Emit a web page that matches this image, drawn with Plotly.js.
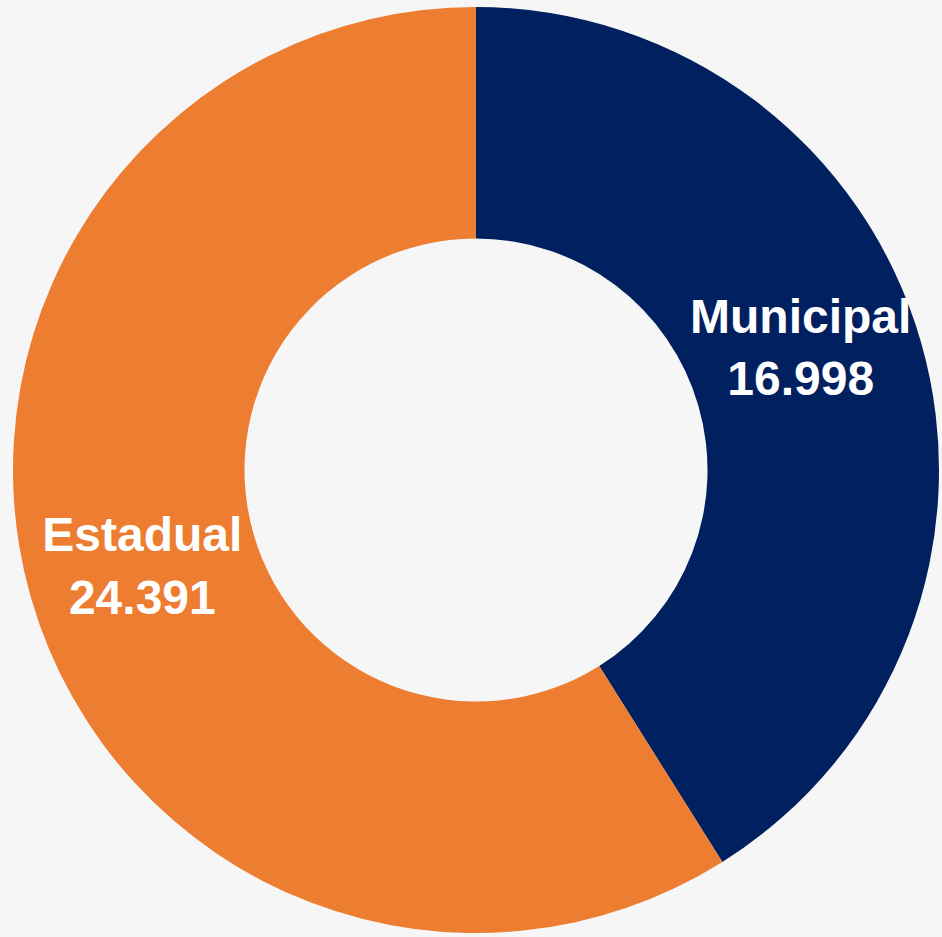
<!DOCTYPE html>
<html>
<head>
<meta charset="utf-8">
<script src="https://cdn.plot.ly/plotly-3.0.1.min.js"></script>
<style>html,body{margin:0;padding:0;background:#f6f6f6;}#chart{width:942px;height:937px;}</style>
</head>
<body>
<div id="chart"></div>
<script>
const categories = ["Municipal", "Estadual"];
const values = [16998, 24391];
const valueLabels = ["16.998", "24.391"];
const colors = ["#00205F", "#ED7D31"];

const labelFont = {family: "Liberation Sans, Arial, sans-serif", size: 48, color: "#ffffff", weight: "bold"};

Plotly.newPlot("chart", [{
  type: "pie",
  labels: categories,
  values: values,
  hole: 0.5,
  sort: false,
  direction: "clockwise",
  rotation: 0,
  marker: {colors: colors, line: {width: 0}},
  texttemplate: "%{label}<br>%{value:,}",
  textposition: ["none", "inside"],
  insidetextorientation: "horizontal",
  textfont: labelFont,
  hoverinfo: "label+value"
}], {
  width: 942, height: 937,
  margin: {l: 13, r: 3, t: 7, b: 4},
  paper_bgcolor: "#f6f6f6",
  plot_bgcolor: "#f6f6f6",
  separators: ",.",
  showlegend: false,
  annotations: [{
    text: categories[0] + "<br>" + valueLabels[0],
    xref: "paper", yref: "paper",
    x: 0.85, y: 0.632,
    xanchor: "center", yanchor: "middle",
    showarrow: false,
    font: labelFont
  }]
}, {displayModeBar: false, staticPlot: true});
</script>
</body>
</html>
